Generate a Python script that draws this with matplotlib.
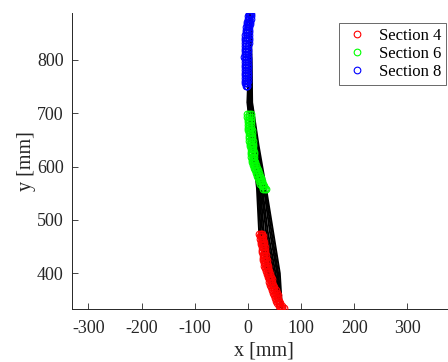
"""Tracked positions per section against the recorded trajectories."""

import matplotlib

matplotlib.use("Agg")
import matplotlib.pyplot as plt

# black trajectories, x [mm] sampled at the shared y levels
traj_y = [885, 800, 720, 640, 560, 480, 400, 335]
traj_x = [
    [4, 2, -1, 8, 17, 21, 38, 64],
    [4, 3, 0, 9, 19, 24, 41, 64],
    [4, 3, 1, 11, 21, 27, 44, 64],
    [4, 4, 2, 12, 23, 30, 46, 64],
    [4, 5, 4, 14, 25, 34, 49, 64],
    [4, 5, 5, 15, 27, 37, 52, 64],
    [4, 6, 6, 17, 30, 41, 55, 64],
    [4, 6, 7, 18, 32, 44, 57, 64],
    [4, 7, 8, 20, 34, 47, 60, 64],
]

# section 8 (blue): three passes, x [mm] at each y level
sec8_y = [886, 881, 876, 871, 866, 861, 856, 851, 846, 841, 836, 831, 826, 821,
          816, 811, 806, 801, 796, 791, 786, 781, 776, 771, 766, 761, 756, 751]
sec8_x = [
    [3, 1, 0, -1, -2, -3, -4, -4, -5, -5, -6, -6, -6, -6,
     -6, -6, -7, -6, -6, -6, -6, -6, -6, -6, -6, -6, -5, -4],
    [4, 3, 3, 2, 1, 0, -1, -1, -2, -2, -3, -3, -3, -3,
     -3, -3, -3, -3, -3, -3, -3, -3, -3, -3, -3, -3, -3, -2],
    [5, 5, 5, 4, 4, 3, 3, 2, 2, 2, 2, 2, 1, 1,
     1, 1, 1, 1, 1, 1, 1, 1, 1, 0, 0, 0, -1, -1],
]

# section 6 (green)
sec6_y = [698, 693, 688, 683, 678, 673, 668, 663, 658, 653, 648, 643, 638, 633, 628,
          623, 618, 613, 608, 603, 598, 593, 588, 583, 578, 573, 568, 563, 558]
sec6_x = [
    [-1, -1, 0, 0, 0, 1, 1, 2, 2, 3, 3, 4, 4, 5, 5,
     6, 6, 7, 8, 9, 11, 13, 15, 17, 19, 21, 23, 26, 29],
    [2, 2, 2, 3, 3, 3, 4, 4, 5, 5, 6, 6, 7, 7, 8,
     8, 9, 9, 11, 12, 14, 16, 18, 20, 22, 24, 26, 29, 32],
    [5, 5, 5, 6, 6, 6, 7, 7, 8, 8, 9, 9, 10, 10, 11,
     11, 12, 12, 14, 15, 17, 19, 21, 23, 25, 27, 29, 31, 34],
]

# section 4 (red)
sec4_y = [474, 469, 464, 459, 454, 449, 444, 439, 434, 429, 424, 419, 414, 409, 404,
          399, 394, 389, 384, 379, 374, 369, 364, 359, 354, 349, 344, 339, 335]
sec4_x = [
    [21, 22, 23, 24, 25, 26, 27, 27, 28, 28, 29, 30, 31, 32, 34,
     35, 37, 39, 40, 42, 44, 46, 48, 50, 51, 53, 55, 58, 62],
    [24, 25, 26, 27, 28, 29, 30, 30, 31, 31, 32, 33, 34, 35, 37,
     38, 40, 42, 43, 45, 47, 49, 51, 53, 54, 56, 58, 61, 65],
    [27, 28, 29, 30, 31, 32, 33, 33, 34, 34, 35, 36, 37, 38, 40,
     41, 43, 45, 46, 48, 50, 52, 54, 56, 57, 59, 61, 64, 67],
]

sections = [
    ("Section 4", "#ff0000", sec4_x, sec4_y),
    ("Section 6", "#00ff00", sec6_x, sec6_y),
    ("Section 8", "#0000ff", sec8_x, sec8_y),
]

x_ticks = [-300, -200, -100, 0, 100, 200, 300]
y_ticks = [400, 500, 600, 700, 800]

DARK = "#262626"

plt.rcParams["font.family"] = ["Liberation Serif", "DejaVu Serif"]
plt.rcParams["axes.unicode_minus"] = False

fig = plt.figure(figsize=(4.48, 3.62), dpi=100)
ax = fig.add_axes([0.1607, 0.1456, 0.859, 0.8185])

for xs in traj_x:
    ax.plot(xs, traj_y, color="black", lw=1.4, zorder=2)

for label, color, passes, ys in sections:
    for i, xs in enumerate(passes):
        ax.plot(xs, ys, "o", ls="none", ms=4.8, mfc="none", mec=color, mew=0.8,
                label=label if i == 0 else None, zorder=3)

ax.set_xlim(-330.8, 392.9)
ax.set_ylim(332.6, 887.5)
ax.set_xticks(x_ticks)
ax.set_yticks(y_ticks)
ax.tick_params(direction="in", length=4, width=0.6, colors=DARK, labelsize=13, pad=6)
ax.tick_params(axis="x", pad=8)
ax.spines["top"].set_visible(False)
ax.spines["right"].set_visible(False)
for side in ("left", "bottom"):
    ax.spines[side].set_color(DARK)
    ax.spines[side].set_linewidth(0.7)

ax.set_xlabel("x [mm]", fontsize=14.5, color=DARK, labelpad=3)
ax.set_ylabel("y [mm]", fontsize=14.5, color=DARK, labelpad=0.5)

leg = ax.legend(loc="upper right", bbox_to_anchor=(446 / 448, 1 - 22.7 / 362),
                bbox_transform=fig.transFigure, fontsize=12, frameon=True,
                fancybox=False, borderpad=0.3, handletextpad=0.5,
                labelspacing=0.12, handlelength=1.6, borderaxespad=0.0)
leg.get_frame().set_edgecolor(DARK)
leg.get_frame().set_linewidth(0.6)

fig.savefig("out.png", dpi=100)
plt.close(fig)
